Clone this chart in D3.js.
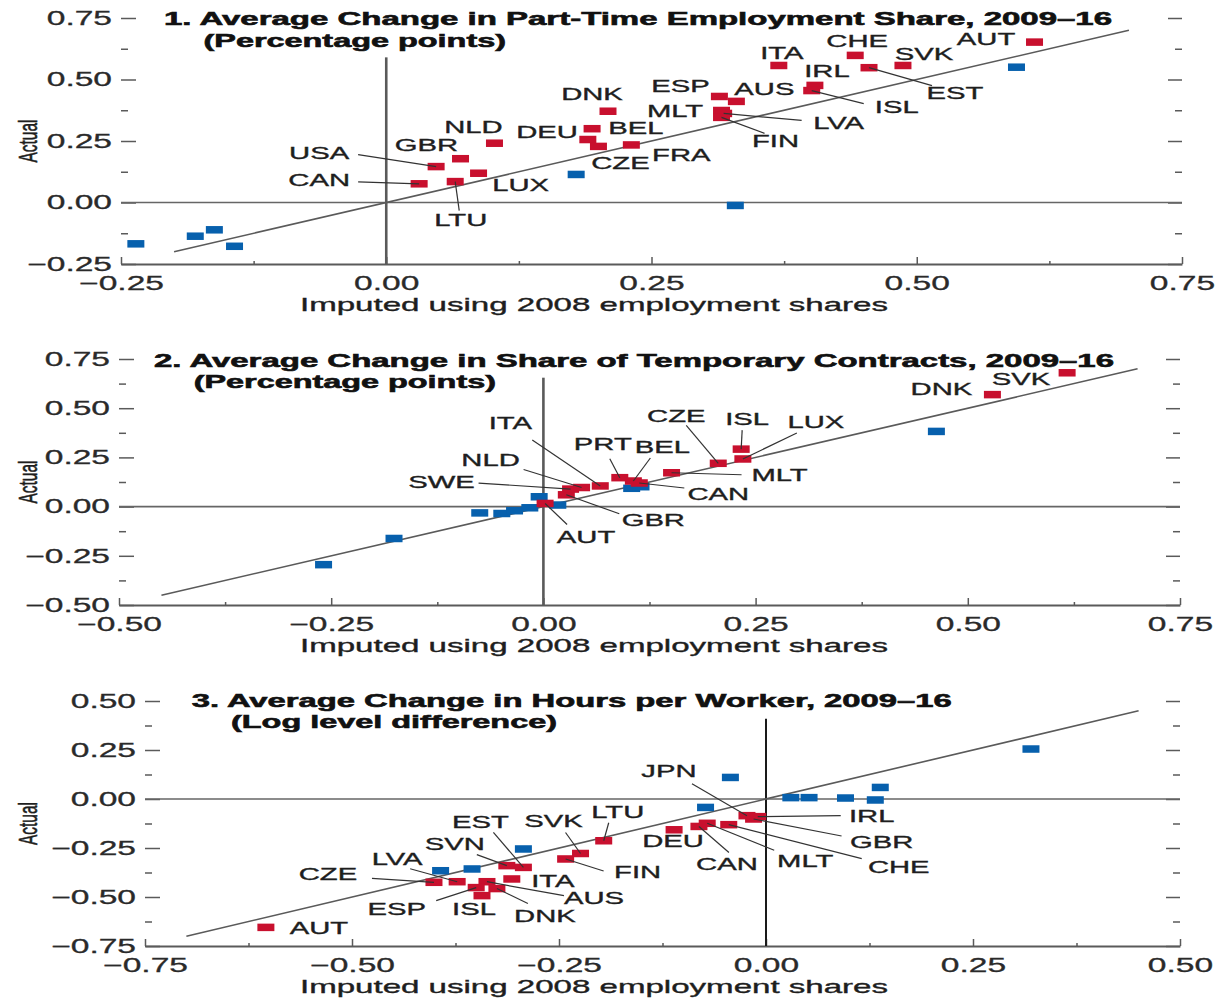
<!DOCTYPE html>
<html><head><meta charset="utf-8">
<script src="https://cdn.jsdelivr.net/npm/d3@7"></script>
<style>body{margin:0;background:#fff}svg{display:block}</style>
</head><body>
<svg id="chart" width="1215" height="1000"></svg>
<script>
// ---------------- DATA ----------------
// Panel 1: Part-time employment share
const p1Title = ["1. Average Change in Part-Time Employment Share, 2009\u201316", "(Percentage points)"];
const p1Ticks = [-0.25, 0, 0.25, 0.5, 0.75];
const p1RedNames = ["USA","GBR","CAN","LTU","LUX","NLD","DNK","DEU","BEL","CZE","FRA","ESP","AUS","MLT","LVA","FIN","ITA","IRL","ISL","CHE","EST","SVK","AUT"];
const p1RedX = [0.047,0.070,0.031,0.065,0.087,0.102,0.209,0.194,0.190,0.200,0.231,0.314,0.330,0.316,0.318,0.316,0.370,0.404,0.401,0.442,0.455,0.487,0.611];
const p1RedY = [0.146,0.178,0.076,0.085,0.119,0.241,0.371,0.300,0.256,0.228,0.234,0.431,0.411,0.374,0.362,0.346,0.557,0.476,0.455,0.598,0.548,0.557,0.652];
const p1BlueX = [-0.236,-0.180,-0.162,-0.143,0.179,0.329,0.594];
const p1BlueY = [-0.168,-0.137,-0.111,-0.178,0.114,-0.012,0.550];

// Panel 2: Temporary contracts
const p2Title = ["2. Average Change in Share of Temporary Contracts, 2009\u201316", "(Percentage points)"];
const p2Ticks = [-0.5, -0.25, 0, 0.25, 0.5, 0.75];
const p2RedNames = ["AUT","GBR","SWE","NLD","ITA","PRT","BEL","CAN","MLT","CZE","ISL","LUX","DNK","SVK"];
const p2RedX = [0.002,0.027,0.032,0.045,0.067,0.090,0.106,0.113,0.151,0.206,0.233,0.235,0.529,0.617];
const p2RedY = [0.016,0.060,0.089,0.097,0.105,0.147,0.130,0.120,0.172,0.220,0.292,0.242,0.569,0.680];
const p2BlueX = [-0.259,-0.176,-0.075,-0.049,-0.034,-0.016,-0.005,0.017,0.104,0.115,0.463];
const p2BlueY = [-0.295,-0.162,-0.032,-0.035,-0.021,-0.006,0.050,0.008,0.093,0.101,0.382];

// Panel 3: Hours per worker
const p3Title = ["3. Average Change in Hours per Worker, 2009\u201316", "(Log level difference)"];
const p3Ticks = [-0.75, -0.5, -0.25, 0, 0.25, 0.5];
const p3RedNames = ["AUT","CZE","LVA","AUS","ESP","DNK","ISL","ITA","SVN","EST","FIN","SVK","LTU","DEU","CAN","MLT","CHE","JPN","GBR","IRL"];
const p3RedX = [-0.604,-0.401,-0.373,-0.337,-0.350,-0.325,-0.343,-0.307,-0.313,-0.293,-0.242,-0.224,-0.196,-0.111,-0.081,-0.071,-0.045,-0.023,-0.015,-0.010];
const p3RedY = [-0.655,-0.425,-0.422,-0.422,-0.452,-0.457,-0.493,-0.408,-0.340,-0.349,-0.306,-0.278,-0.213,-0.157,-0.140,-0.124,-0.131,-0.085,-0.102,-0.090];
const p3BlueX = [-0.393,-0.355,-0.293,-0.073,-0.043,0.030,0.052,0.096,0.132,0.138,0.320];
const p3BlueY = [-0.366,-0.357,-0.255,-0.043,0.110,0.007,0.007,0.005,-0.005,0.059,0.255];

const xAxisTitle = "Imputed using 2008 employment shares";
const yAxisTitle = "Actual";

// ---------------- LAYOUT (label offsets in px from marker: [dx, dy, leaderDx, leaderDy]) ----------------
const p1LabelPos = {USA:[-117,-14,-78,-12],CAN:[-100,-4,-61,-2],GBR:[-34,-14],NLD:[-21,-16],LUX:[42,12],LTU:[5.5,38,4,29],
  DNK:[-16,-17],DEU:[-45,3],BEL:[48,-12],CZE:[22,16],FRA:[50,10],ESP:[-39,-11],AUS:[28,-13],MLT:[-46.5,0],
  LVA:[115,9,78,7],FIN:[54,23,43,16],ITA:[3,-13],IRL:[12,-15],ISL:[85,16,52,13],CHE:[2,-15],EST:[86,25,63,18],SVK:[21,-12],AUT:[-48.5,-3]};
const p2LabelPos = {ITA:[-90,-63,-68,-46],NLD:[-91,-27.5,-58,-18],SWE:[-129,-7,-92,-6],GBR:[87,25,53,19],AUT:[41,33,22,21],
  PRT:[-17,-34,-10,-19],BEL:[29,-34,17,-23],CAN:[79,11,45,5],MLT:[108,2,70,2],CZE:[-42,-48,-32,-38],ISL:[6,-30,1,-19],
  LUX:[73,-37,54,-26],DNK:[-51,-6],SVK:[-46,6]};
const p3LabelPos = {AUT:[53,0],CZE:[-106,-9,-62,-4],LVA:[-60,-23,-47,-13],SVN:[-52,-22,-30,-11],EST:[-43,-46,-30,-35],
  SVK:[-27,-33,-15,-21],LTU:[14,-29,5,-18],FIN:[72,13,38,12],ITA:[41,2],AUS:[107,16,77,14],ESP:[-79.5,21,-40,13],
  ISL:[-8,13],DNK:[48,27,31,15],JPN:[-78,-45,-55,-32],DEU:[-1,11],CAN:[28,37,30,26],MLT:[98,37,67,27],
  CHE:[170,42,133,34],IRL:[114,-1,83,-1],GBR:[128,23,88,17]};

const panels = [
  {title:p1Title, ticks:p1Ticks, red:[p1RedNames,p1RedX,p1RedY], blue:[p1BlueX,p1BlueY], labels:p1LabelPos,
   xRange:[121,1182], yRange:[264,18], fit:[-0.2,0.7], zeroTop:0.59, vColor:"#5a5a5a", vWidth:2.6,
   titleX:[164,203.5], titleW:[948,302.5], titleY:[25,46.7]},
  {title:p2Title, ticks:p2Ticks, red:[p2RedNames,p2RedX,p2RedY], blue:[p2BlueX,p2BlueY], labels:p2LabelPos,
   xRange:[119,1180], yRange:[605,359], fit:[-0.45,0.70], zeroTop:0.655, vColor:"#5a5a5a", vWidth:2.6,
   titleX:[154,193.7], titleW:[960,302.3], titleY:[366.7,388]},
  {title:p3Title, ticks:p3Ticks, red:[p3RedNames,p3RedX,p3RedY], blue:[p3BlueX,p3BlueY], labels:p3LabelPos,
   xRange:[145,1180], yRange:[946,701], fit:[-0.70,0.45], zeroTop:0.41, vColor:"#1a1a1a", vWidth:2,
   titleX:[191.7,231], titleW:[760,326], titleY:[706.5,728]}
];

// ---------------- DRAW ----------------
const K = 1.72; // horizontal glyph stretch of the reference
const FONT = "'Liberation Sans', Arial, Helvetica, sans-serif";
const RED = "#c8102e", BLUE = "#0760ad", AXIS = "#5a5a5a";
const MW = 17, MH = 7.5;
const svg = d3.select("#chart");

function sText(g, x, y, txt, size, anchor, extra) {
  return g.append("text")
    .attr("transform", `translate(${x},${y}) scale(${K},1)` + (extra || ""))
    .attr("text-anchor", anchor || "middle")
    .style("font-family", FONT).style("font-size", size + "px")
    .attr("fill", "#1e1e1e").attr("stroke", "#1e1e1e").attr("stroke-width", 0.35).text(txt);
}

panels.forEach(p => {
  const g = svg.append("g");
  const dom = [p.ticks[0], p.ticks[p.ticks.length - 1]];
  const x = d3.scaleLinear().domain(dom).range(p.xRange);
  const y = d3.scaleLinear().domain(dom).range(p.yRange);
  const minors = d3.pairs(p.ticks).map(([a, b]) => (a + b) / 2);
  const fmt = d3.format(".2f");

  // bottom axis
  const bx = g.append("g").attr("transform", `translate(0,${p.yRange[0]})`)
    .call(d3.axisBottom(x).tickValues(p.ticks).tickSize(-7).tickSizeOuter(0).tickPadding(12).tickFormat(fmt));
  bx.select(".domain").attr("stroke", AXIS).attr("stroke-width", 1.8);
  bx.selectAll(".tick line").attr("stroke", AXIS).attr("stroke-width", 1.5);
  bx.selectAll("text").attr("transform", `scale(${K},1)`).attr("fill", "#2a2a2a")
    .attr("stroke", "#2a2a2a").attr("stroke-width", 0.3)
    .style("font-family", FONT).style("font-size", "19.5px");
  const bxm = g.append("g").attr("transform", `translate(0,${p.yRange[0]})`)
    .call(d3.axisBottom(x).tickValues(minors).tickSize(-3).tickFormat(""));
  bxm.select(".domain").remove();
  bxm.selectAll(".tick line").attr("stroke", AXIS).attr("stroke-width", 1.5);

  // left axis
  const ly = g.append("g").attr("transform", `translate(${p.xRange[0]},0)`)
    .call(d3.axisLeft(y).tickValues(p.ticks).tickSize(-15).tickPadding(9).tickFormat(fmt));
  ly.select(".domain").remove();
  ly.selectAll(".tick line").attr("stroke", AXIS).attr("stroke-width", 1.5);
  ly.selectAll("text").attr("x", null).attr("transform", `translate(-9,0) scale(${K},1)`).attr("fill", "#2a2a2a")
    .attr("stroke", "#2a2a2a").attr("stroke-width", 0.3)
    .style("font-family", FONT).style("font-size", "19.5px");
  const lym = g.append("g").attr("transform", `translate(${p.xRange[0]},0)`)
    .call(d3.axisLeft(y).tickValues(minors).tickSize(-7).tickFormat(""));
  lym.select(".domain").remove();
  lym.selectAll(".tick line").attr("stroke", AXIS).attr("stroke-width", 1.5);

  // right axis (ticks only)
  [[p.ticks, -14], [minors, -7]].forEach(([tv, ts]) => {
    const ry = g.append("g").attr("transform", `translate(${p.xRange[1]},0)`)
      .call(d3.axisRight(y).tickValues(tv).tickSize(ts).tickFormat(""));
    ry.select(".domain").remove();
    ry.selectAll(".tick line").attr("stroke", AXIS).attr("stroke-width", 1.5);
  });

  // zero lines
  g.append("line").attr("x1", p.xRange[0]).attr("x2", p.xRange[1]).attr("y1", y(0)).attr("y2", y(0))
    .attr("stroke", "#666").attr("stroke-width", 1.6);
  g.append("line").attr("x1", x(0)).attr("x2", x(0)).attr("y1", y(p.zeroTop)).attr("y2", p.yRange[0])
    .attr("stroke", p.vColor).attr("stroke-width", p.vWidth);

  // 45-degree line
  g.append("path").datum(p.fit).attr("fill", "none").attr("stroke", "#5a5a5a").attr("stroke-width", 1.6)
    .attr("d", d3.line().x(d => x(d)).y(d => y(d)));

  // markers
  const blue = p.blue[0].map((v, i) => ({x: v, y: p.blue[1][i]}));
  const red = p.red[0].map((n, i) => ({name: n, x: p.red[1][i], y: p.red[2][i]}));
  g.append("g").selectAll("rect").data(blue).join("rect")
    .attr("x", d => x(d.x) - MW / 2).attr("y", d => y(d.y) - MH / 2).attr("width", MW).attr("height", MH).attr("fill", BLUE);
  g.append("g").selectAll("rect").data(red).join("rect")
    .attr("x", d => x(d.x) - MW / 2).attr("y", d => y(d.y) - MH / 2).attr("width", MW).attr("height", MH).attr("fill", RED);

  // leaders and labels
  red.forEach(d => {
    const lp = p.labels[d.name];
    if (!lp) return;
    const mx = x(d.x), my = y(d.y);
    if (lp.length > 2) {
      g.append("line").attr("x1", mx).attr("y1", my).attr("x2", mx + lp[2]).attr("y2", my + lp[3])
        .attr("stroke", "#333").attr("stroke-width", 1.2);
    }
  });
  red.forEach(d => {
    const lp = p.labels[d.name];
    if (!lp) return;
    sText(g, x(d.x) + lp[0], y(d.y) + lp[1] + 6.2, d.name, 17, "middle");
  });

  // titles
  p.title.forEach((t, i) => {
    g.append("text").attr("x", p.titleX[i]).attr("y", p.titleY[i])
      .attr("textLength", p.titleW[i]).attr("lengthAdjust", "spacingAndGlyphs")
      .style("font-family", FONT).style("font-size", "18.5px").style("font-weight", 700)
      .attr("fill", "#111").attr("stroke", "#111").attr("stroke-width", 0.6).text(t);
  });

  // axis titles
  g.append("text").attr("x", 594).attr("y", p.yRange[0] + 47).attr("text-anchor", "middle")
    .attr("textLength", 588).attr("lengthAdjust", "spacingAndGlyphs")
    .style("font-family", FONT).style("font-size", "18.5px").attr("fill", "#1e1e1e")
    .attr("stroke", "#1e1e1e").attr("stroke-width", 0.35).text(xAxisTitle);
  sText(g, 37, (p.yRange[0] + p.yRange[1]) / 2, yAxisTitle, 15.5, "middle", " rotate(-90)");
});
</script>
</body></html>
